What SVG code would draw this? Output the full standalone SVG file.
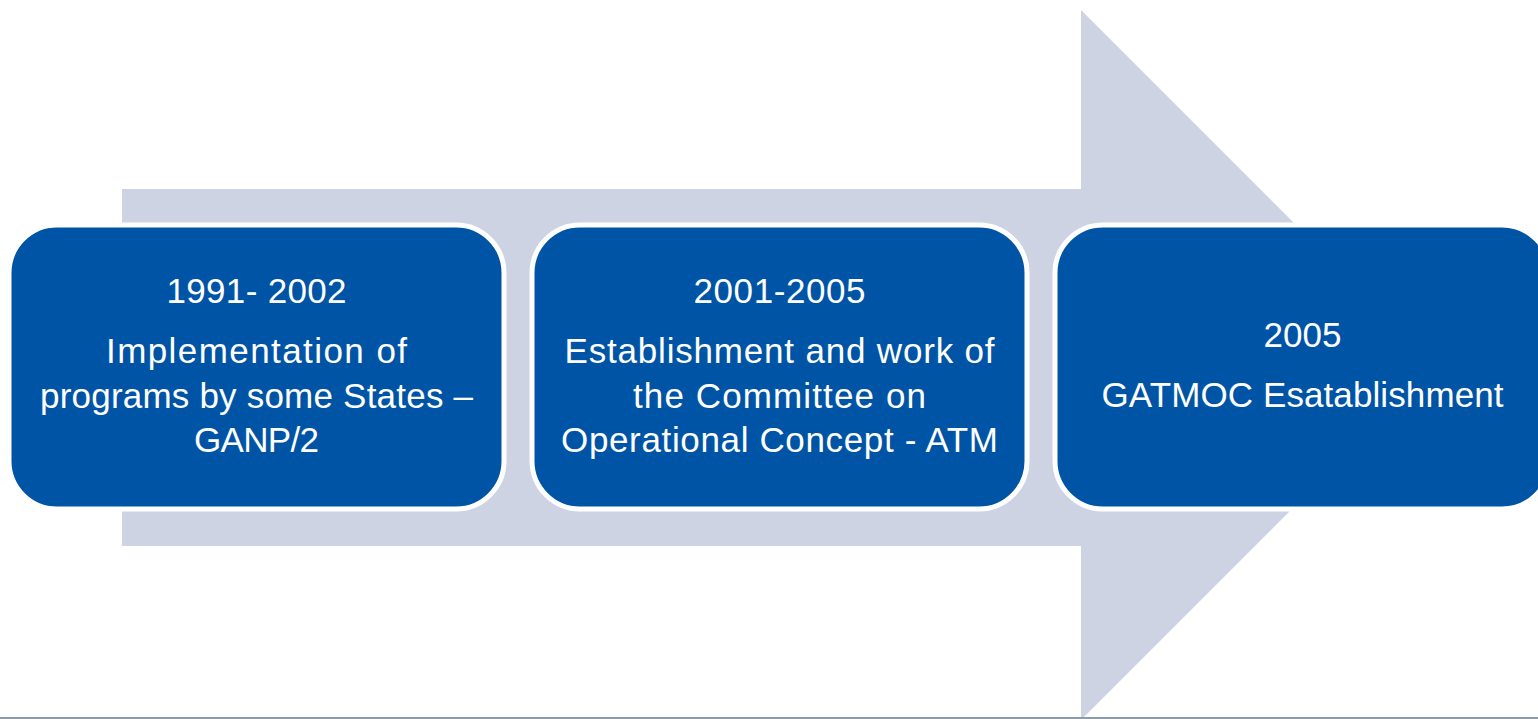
<svg xmlns="http://www.w3.org/2000/svg" width="1538" height="719" viewBox="0 0 1538 719">
<style>
.box{fill:#0054A5;stroke:#FFFFFF;stroke-width:5}
.t{fill:#FFFFFF;font-family:"Liberation Sans",Arial,sans-serif;font-size:35px;text-anchor:middle}
</style>
<rect x="0" y="0" width="1538" height="719" fill="#FFFFFF"/>
<g id="arrow">
<polygon points="122,189 1081,189 1081,10 1436,365 1081,720 1081,546 122,546" fill="#CDD3E3"/>
</g>
<rect x="0" y="717" width="1538" height="2" fill="#8C9BA5"/>
<g id="node1">
<rect class="box" x="9" y="225" width="495" height="284" rx="48" ry="48"/>
<text class="t" x="256.5" y="303" textLength="180">1991- 2002</text>
<text class="t" x="256.5" y="363" textLength="301">Implementation of</text>
<text class="t" x="256.5" y="408" textLength="433">programs by some States –</text>
<text class="t" x="256.5" y="452" textLength="125">GANP/2</text>
</g>
<g id="node2">
<rect class="box" x="532" y="225" width="495" height="284" rx="48" ry="48"/>
<text class="t" x="779.5" y="303" textLength="172">2001-2005</text>
<text class="t" x="779.5" y="363" textLength="430">Establishment and work of</text>
<text class="t" x="779.5" y="408" textLength="293">the Committee on</text>
<text class="t" x="779.5" y="452" textLength="437">Operational Concept - ATM</text>
</g>
<g id="node3">
<rect class="box" x="1055" y="225" width="495" height="284" rx="48" ry="48"/>
<text class="t" x="1302.5" y="347" textLength="78">2005</text>
<text class="t" x="1302.5" y="407" textLength="402">GATMOC Esatablishment</text>
</g>
<g id="connectors"></g>
</svg>
